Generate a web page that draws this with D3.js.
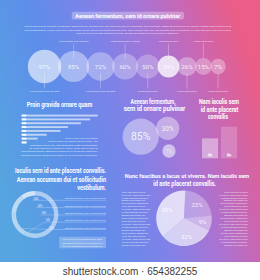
<!DOCTYPE html>
<html><head><meta charset="utf-8">
<script src="https://cdn.jsdelivr.net/npm/d3@7"></script>
<style>html,body{margin:0;padding:0;background:#fff;overflow:hidden}</style>
</head><body><svg id="c" width="260" height="280"></svg>
<script>
// ---------- data ----------
const titleText = "Aenean fermentum, sem id ornare pulvinar";
const introLines = [
  "Lorem ipsum dolor sit amet, consectetur adipiscing elit. Sed mollis mi non diam suscipit, et consectetur lacus tristique. Integer facilisis purus eu ultrices volutpat. Sed convallis nunc",
  "sed feugiat aliquet. Fusce cursus elit ut accumsan auctor. Donec accumsan facilisis dolor. Sed euismod nunc nisl, sed pharetra justo consectetur at. Nunc faucibus a lacus ut viverra.",
  "Nam iaculis sem id ante placerat convallis. Aenean accumsan dui et sollicitudin vestibulum."
];
const bubbleValues = [97, 85, 72, 60, 50, 39, 26, 15, 7];
const bubbleNotes = ["Lorem ipsum dolor sit amet","Lorem ipsum dolor sit amet","Lorem ipsum dolor sit amet",
  "Lorem ipsum dolor sit amet","Lorem ipsum dolor","Lorem ipsum dolor","Lorem ipsum dolor","Lorem ipsum dolor","Lorem ipsum dolor"];
const hBarValues = [100, 90, 78, 61, 51, 33, 21, 7];
const hBarTags = ["01","02","03","04","05","06","07","08"];
const hBarText = [
  "Fusce cursus elit ut accumsan",
  "auctor. Donec accumsan facilisis dolor. Sed",
  "euismod nunc nisl, sed pharetra justo consectetur",
  "at. Nunc faucibus a lacus ut viverra. Nam iaculis sem id",
  "ante placerat convallis. Aenean accumsan dui et sollicitudin vestibulum.",
  "placerat convallis. Aenean accumsan dui et sollicitudin vestibulum."
];
const trioValues = [85, 30, 7];
const vBarValues = [63, 100];
const vBarLabels = ["No", "No"];
const donutValues = [34, 24, 18, 14, 10];
const donutNote = "Aenean fermentum, sem id ornare pulvinar";
const donutBoxLines = ["Fusce cursus elit ut accumsan auctor. Donec", "accumsan facilisis dolor. Sed euismod nunc", "nisl, sed pharetra justo consectetur at."];
const pieValues = [23, 9, 32, 38];
const pieColumnText = ["Nunc faucibus a lacus","ut viverra. Nam iaculis sem","id ante placerat convallis.","Aenean accumsan dui","et sollicitudin vestibulum."];

// ---------- setup ----------
const svg = d3.select("#c");
const FONT = "Roboto, 'Liberation Sans', Arial, sans-serif";
const defs = svg.append("defs");
const lg = defs.append("linearGradient").attr("id","bg").attr("gradientUnits","userSpaceOnUse")
  .attr("x1",0).attr("y1",175).attr("x2",260).attr("y2",95);
[[0,"#56a4e0"],[0.28,"#5e8eea"],[0.5,"#7f82e8"],[0.68,"#a874d4"],[0.84,"#cc66b0"],[1,"#ea5e88"]]
  .forEach(([o,c]) => lg.append("stop").attr("offset",o).attr("stop-color",c));

svg.append("rect").attr("width",260).attr("height",280).attr("fill","#fff");
svg.append("rect").attr("width",260).attr("height",262).attr("fill","url(#bg)");
svg.append("text").attr("x",130).attr("y",275).attr("text-anchor","middle")
  .attr("font-family","'Liberation Sans', Arial, sans-serif").attr("font-size",10).attr("fill","#3a3a3a")
  .text("shutterstock.com \u00b7 654382255");

function txt(x, y, s, o = {}) {
  const t = svg.append("text").attr("x", x).attr("y", y)
    .attr("font-family", FONT).attr("font-size", o.size || 2.6)
    .attr("font-weight", o.weight || 400)
    .attr("text-anchor", o.anchor || "start")
    .attr("fill", "#fff").attr("fill-opacity", o.op == null ? 0.85 : o.op).text(s);
  if (o.len) t.attr("textLength", o.len).attr("lengthAdjust", "spacingAndGlyphs");
  return t;
}
const H = 6.6; // heading size

// ---------- title ----------
svg.append("rect").attr("x",71.7).attr("y",11.8).attr("width",112.3).attr("height",7.8).attr("rx",2.2)
  .attr("fill","#fff").attr("fill-opacity",0.3);
txt(127.8, 18, titleText, {size:6.2, weight:700, anchor:"middle", len:105, op:1});
const introLens = [207, 207, 103];
introLines.forEach((s,i) => txt(127.8, 26.9 + i*3.6, s, {anchor:"middle", len:introLens[i], size:2.5, op:0.8}));

// ---------- bubble row ----------
const rScale = d3.scaleLinear().domain([0,100]).range([7,17]);
const cy = 66.5;
const centers = [];
bubbleValues.forEach((v,i) => {
  if (i === 0) centers.push(44.5);
  else centers.push(centers[i-1] + 0.905*(rScale(bubbleValues[i-1]) + rScale(v)));
});
const bubbleOps = [0.6,0.4,0.33,0.3,0.26,0.78,0.33,0.3,0.33];
const bRow = svg.append("g");
bRow.selectAll("circle").data(bubbleValues).join("circle")
  .attr("cx",(d,i)=>centers[i]).attr("cy",cy).attr("r",d=>rScale(d))
  .attr("fill","#fff").attr("fill-opacity",(d,i)=>bubbleOps[i]);
bubbleValues.forEach((v,i) => {
  const below = i % 2 === 0;
  const x = centers[i];
  svg.append("line").attr("x1",x).attr("x2",x)
    .attr("y1", below ? cy + 7 : 43.5).attr("y2", below ? 88.5 : cy - 8)
    .attr("stroke","#fff").attr("stroke-opacity",0.7).attr("stroke-width",0.4);
  txt(x, below ? 91.5 : 42, bubbleNotes[i], {anchor:"middle", size:2.4, op:0.85});
  txt(x, cy + 2.2, v + "%", {anchor:"middle", size:6.2, op:0.85});
});

// ---------- section 2 headings ----------
txt(59.5, 107.2, "Proin gravida ornare quam", {size:H, weight:700, anchor:"middle", len:65.6, op:1});
txt(153, 103.9, "Aenean fermentum,", {size:H, weight:700, anchor:"middle", len:45, op:1});
txt(154.5, 111.2, "sem id ornare pulvinar", {size:H, weight:700, anchor:"middle", len:61.7, op:1});
txt(219, 104.2, "Nam iaculis sem", {size:H, weight:700, anchor:"middle", len:40, op:1});
txt(219.5, 111.7, "id ante placerat", {size:H, weight:700, anchor:"middle", len:37.6, op:1});
txt(218, 119.2, "convallis", {size:H, weight:700, anchor:"middle", len:20, op:1});

// ---------- horizontal bars ----------
const hx = d3.scaleLinear().domain([0,100]).range([21.7, 97.7]);
const hy = d3.scaleBand().domain(hBarValues.map((d,i)=>i)).range([114.6, 143.4]).paddingInner(0.5);
svg.append("g").selectAll("rect").data(hBarValues).join("rect")
  .attr("x", hx(0)).attr("y",(d,i)=>hy(i)).attr("width", d=>hx(d)-hx(0)).attr("height", hy.bandwidth())
  .attr("fill","#fff").attr("fill-opacity",0.6);
svg.append("g").selectAll("rect").data(hBarTags).join("rect")
  .attr("x", hx(0)).attr("y",(d,i)=>hy(i)).attr("width", 4.5).attr("height", hy.bandwidth())
  .attr("fill","#fff").attr("fill-opacity",0.9);
const hTextLens = [32.7, 49.4, 67.7, 68.4, 76.7, 76.7];
hBarText.forEach((s,i) => txt(97.7, 139.1 + i*3.33, s, {anchor:"end", len:hTextLens[i], size:2.5, op:0.8}));

// ---------- trio bubbles ----------
const tr = d3.scaleSqrt().domain([0,100]).range([2,19.5]);
const trioPos = [[140.7,136.7],[167.7,128.3],[169,151]];
const trioSizes = [10.5, 6.3, 5];
trioValues.forEach((v,i) => {
  svg.append("circle").attr("cx",trioPos[i][0]).attr("cy",trioPos[i][1]).attr("r",tr(v))
    .attr("fill","#fff").attr("fill-opacity", i===2 ? 0.55 : 0.4);
  txt(trioPos[i][0], trioPos[i][1] + trioSizes[i]*0.36, v + "%", {anchor:"middle", size:trioSizes[i], op:i===2?0.6:0.88});
});

// ---------- vertical bars ----------
const vx = d3.scaleBand().domain(vBarValues.map((d,i)=>i)).range([202, 237]).paddingInner(0.15);
const vy = d3.scaleLinear().domain([0,100]).range([158.3, 126.7]);
const vOps = [0.42, 0.2];
svg.append("g").selectAll("rect").data(vBarValues).join("rect")
  .attr("x",(d,i)=>vx(i)).attr("y",d=>vy(d)).attr("width",vx.bandwidth()).attr("height",d=>vy(0)-vy(d))
  .attr("fill","#fff").attr("fill-opacity",(d,i)=>vOps[i]);
vBarLabels.forEach((s,i) => {
  svg.append("rect").attr("x", vx(i)+vx.bandwidth()/2-2.4).attr("y",154.2).attr("width",4.8).attr("height",2.6)
    .attr("fill","#fff").attr("fill-opacity",0.35);
  txt(vx(i)+vx.bandwidth()/2, 156.3, s, {anchor:"middle", size:2.6, weight:700, op:0.9});
});

// ---------- section 3 headings ----------
txt(106, 173.2, "Iaculis sem id ante placerat convallis.", {size:H, weight:700, anchor:"end", len:91, op:1});
txt(106, 181.5, "Aenean accumsan dui et sollicitudin", {size:H, weight:700, anchor:"end", len:89.3, op:1});
txt(106, 189.9, "vestibulum.", {size:H, weight:700, anchor:"end", len:28.7, op:1});
txt(187, 177.7, "Nunc faucibus a lacus ut viverra. Nam iaculis sem", {size:5.2, weight:700, anchor:"middle", len:124.3, op:1});
txt(184.7, 185.5, "id ante placerat convallis.", {size:H, weight:700, anchor:"middle", len:62.7, op:1});

// ---------- donut ----------
const dc = [35, 214.5];
const dArc = d3.arc().innerRadius(19).outerRadius(23.5);
const dPie = d3.pie().sort(null);
const dOps = [0.5, 0.5, 0.55, 0.6, 0.72];
svg.append("g").attr("transform",`translate(${dc[0]},${dc[1]})`)
  .selectAll("path").data(dPie(donutValues)).join("path")
  .attr("d", dArc).attr("fill","#fff").attr("fill-opacity",(d,i)=>dOps[i]);
donutValues.forEach((v,i) => {
  const lx = 32.5 + i*3.9, ly = 199.5 + i*7.3;
  svg.append("line").attr("x1",lx).attr("x2",106).attr("y1",ly+0.8).attr("y2",ly+0.8)
    .attr("stroke","#fff").attr("stroke-opacity",0.7).attr("stroke-width",0.35);
  txt(lx + 1, ly, v + "%", {size:2.6, op:0.85});
  txt(106, ly - 0.2, donutNote, {anchor:"end", size:2.5, len:41, op:0.8});
  if (i >= 3) {
    const a = Math.PI*(1.12 + (i-3)*0.12);
    svg.append("line").attr("x1", dc[0] + 19*Math.sin(a)).attr("y1", dc[1] - 19*Math.cos(a))
      .attr("x2", lx).attr("y2", ly+0.8)
      .attr("stroke","#fff").attr("stroke-opacity",0.6).attr("stroke-width",0.35);
  }
});
svg.append("rect").attr("x",59.3).attr("y",236.7).attr("width",46.7).attr("height",11.6).attr("rx",0.8)
  .attr("fill","#fff").attr("fill-opacity",0.25);
donutBoxLines.forEach((s,i) => txt(82.6, 240.3 + i*3.2, s, {anchor:"middle", size:2.5, len:40, op:0.85}));

// ---------- pie ----------
const pc = [184, 218.3], pr = 27.8;
const pPie = d3.pie().sort(null).startAngle(0.05).endAngle(0.05 + 2*Math.PI);
const pArc = d3.arc().innerRadius(0).outerRadius(pr);
const lArc = d3.arc().innerRadius(pr*0.68).outerRadius(pr*0.68);
const pOps = [0.3, 0.47, 0.64, 0.74];
const pg = svg.append("g").attr("transform",`translate(${pc[0]},${pc[1]})`);
const arcs = pPie(pieValues);
pg.selectAll("path").data(arcs).join("path").attr("d", pArc)
  .attr("fill","#fff").attr("fill-opacity",(d,i)=>pOps[i]);
arcs.forEach(a => {
  const [x,y] = lArc.centroid(a);
  txt(pc[0]+x, pc[1]+y+2.1, a.data + "%", {anchor:"middle", size:6, op:0.85});
});
for (let k = 0; k < 19; k++) {
  const s = pieColumnText[k % pieColumnText.length];
  txt(121.7, 192.6 + k*2.95, s, {size:2.4, op:0.8});
  txt(247.7, 192.6 + k*2.95, s, {size:2.4, anchor:"end", op:0.8});
}
</script></body></html>
